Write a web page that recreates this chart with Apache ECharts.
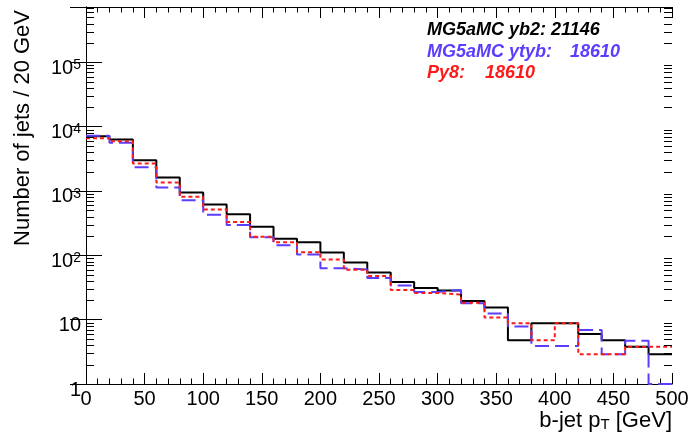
<!DOCTYPE html>
<html><head><meta charset="utf-8">
<script src="https://cdn.jsdelivr.net/npm/echarts@6/dist/echarts.min.js"></script>
<style>html,body{margin:0;padding:0;background:#fff}#c{width:694px;height:439px}</style>
</head><body><div id="c"></div>
<script>
// bin edges (GeV), 20 GeV bins
const binEdges = [0,20,40,60,80,100,120,140,160,180,200,220,240,260,280,300,320,340,360,380,400,420,440,460,480,500];
// Number of jets per bin
const yb2  = [7100,6300,3010,1620,948,615,434,277,180,159,111,77,54,38.5,31,28.3,19.5,15.5,4.8,8.8,8.8,6.0,4.8,3.8,2.9];
const ytyb = [7200,5600,2340,1130,720,426,296,190,143,103,63,60,44.5,34,27,29,18,12.5,7.8,3.9,3.9,6.9,2.9,4.7,1];
const py8  = [6600,5900,2670,1355,811,516,328,194,160,112,86,59.5,47.5,29,26,24.5,18.3,10.8,8.8,4.8,8.8,2.9,2.9,3.8,3.8];
const legendLabels = ['MG5aMC yb2:', 'MG5aMC ytyb:', 'Py8:'];
const legendCounts = ['21146', '18610', '18610'];
const xTitle = ['b-jet p', 'T', ' [GeV]'];
const yTitle = 'Number of jets / 20 GeV';

const FONT = '"Liberation Sans", Arial, Helvetica, sans-serif';
const BLUE = '#5a3dff', RED = '#ff1a1a', BLACK = '#000';
const X_MIN = 0, X_MAX = 500, Y_MIN = 1, Y_MAX = 722000;

function stepData(vals) {
  const d = vals.map((v, i) => [binEdges[i], v]);
  d.push([binEdges[binEdges.length - 1], vals[vals.length - 1]]);
  return d;
}
// minor log tick positions (2..9 per decade)
const minorVals = [];
for (let d = 0; d <= 5; d++) for (let m = 2; m <= 9; m++) { const v = m * Math.pow(10, d); if (v < Y_MAX) minorVals.push([0, v]); }

function yLabel(v) {
  const k = Math.round(Math.log10(v));
  if (Math.abs(Math.log10(v) - k) > 1e-6) return '';
  if (k === 0) return '{b|1}';
  if (k === 1) return '{b|10}';
  return '{b|10}{s|' + k + '}';
}

const chart = echarts.init(document.getElementById('c'), null, {renderer: 'canvas'});
const xAxisBase = {
  type: 'value', min: X_MIN, max: X_MAX, interval: 50,
  axisLine: {show: true, lineStyle: {color: BLACK, width: 1}},
  axisTick: {show: true, inside: true, length: 11, lineStyle: {color: BLACK}},
  minorTick: {show: true, splitNumber: 5, length: 5.5, lineStyle: {color: BLACK}},
  splitLine: {show: false}, minorSplitLine: {show: false}
};
const yAxisBase = {
  type: 'log', logBase: 10, min: Y_MIN, max: Y_MAX, interval: 1,
  axisLine: {show: true, lineStyle: {color: BLACK, width: 1}},
  axisTick: {show: true, inside: true, length: 16, lineStyle: {color: BLACK}},
  splitLine: {show: false}
};
const legendFont = {fontSize: 18, fontWeight: 'bold', fontStyle: 'italic', fontFamily: FONT, align: 'left', verticalAlign: 'middle'};
const option = {
  animation: false,
  backgroundColor: '#fff',
  grid: {left: 86, right: 22, top: 7, bottom: 55, containLabel: false},
  xAxis: [
    Object.assign({}, xAxisBase, {position: 'bottom',
      axisLabel: {show: true, margin: 5, color: BLACK, fontSize: 20, fontFamily: FONT}}),
    Object.assign({}, xAxisBase, {position: 'top', axisLabel: {show: false}})
  ],
  yAxis: [
    Object.assign({}, yAxisBase, {position: 'left',
      axisLabel: {show: true, margin: 5, color: BLACK, formatter: yLabel, padding: [12, 0, 0, 0],
        rich: {
          b: {fontSize: 20, fontFamily: FONT, color: BLACK, lineHeight: 20},
          s: {fontSize: 14, fontFamily: FONT, color: BLACK, lineHeight: 8, verticalAlign: 'top'}
        }}}),
    Object.assign({}, yAxisBase, {position: 'right', axisLabel: {show: false}})
  ],
  series: [
    {type: 'line', name: 'yb2', step: 'end', data: stepData(yb2), showSymbol: false, symbol: 'none',
      lineStyle: {color: BLACK, width: 2}, clip: true, z: 3},
    {type: 'line', name: 'ytyb', step: 'end', data: stepData(ytyb), showSymbol: false, symbol: 'none',
      lineStyle: {color: BLUE, width: 2, type: [14, 6]}, clip: true, z: 4},
    {type: 'line', name: 'py8', step: 'end', data: stepData(py8), showSymbol: false, symbol: 'none',
      lineStyle: {color: RED, width: 2, type: [4, 3]}, clip: true, z: 5},
    {type: 'custom', name: 'minorTicks', silent: true, clip: false, data: minorVals, z: 6,
      renderItem: function (params, api) {
        const v = api.value(1);
        const pl = api.coord([X_MIN, v]);
        const pr = api.coord([X_MAX, v]);
        const y = Math.round(pl[1]) + 0.5;
        return {type: 'group', children: [
          {type: 'line', shape: {x1: pl[0], y1: y, x2: pl[0] + 8, y2: y}, style: {stroke: BLACK, lineWidth: 1}},
          {type: 'line', shape: {x1: pr[0] - 8, y1: y, x2: pr[0], y2: y}, style: {stroke: BLACK, lineWidth: 1}}
        ]};
      }}
  ],
  graphic: [
    {type: 'text', x: 427, y: 30, style: Object.assign({text: legendLabels[0] + ' ' + legendCounts[0], fill: BLACK}, legendFont)},
    {type: 'text', x: 427, y: 52, style: Object.assign({text: legendLabels[1], fill: BLUE}, legendFont)},
    {type: 'text', x: 570, y: 52, style: Object.assign({text: legendCounts[1], fill: BLUE}, legendFont)},
    {type: 'text', x: 427, y: 73, style: Object.assign({text: legendLabels[2], fill: RED}, legendFont)},
    {type: 'text', x: 485, y: 73, style: Object.assign({text: legendCounts[2], fill: RED}, legendFont)},
    {type: 'text', x: 23, y: 10, rotation: Math.PI / 2, style: {text: yTitle, fill: BLACK, fontSize: 22, fontFamily: FONT, align: 'right', verticalAlign: 'middle'}},
    {type: 'text', x: 672, y: 421, style: {
      text: '{a|' + xTitle[0] + '}{s|' + xTitle[1] + '}{a|' + xTitle[2] + '}',
      align: 'right', verticalAlign: 'middle',
      rich: {
        a: {fontSize: 22, fontFamily: FONT, fill: BLACK, lineHeight: 22},
        s: {fontSize: 15, fontFamily: FONT, fill: BLACK, lineHeight: 6, verticalAlign: 'bottom'}
      }}}
  ]
};
chart.setOption(option);
</script></body></html>
